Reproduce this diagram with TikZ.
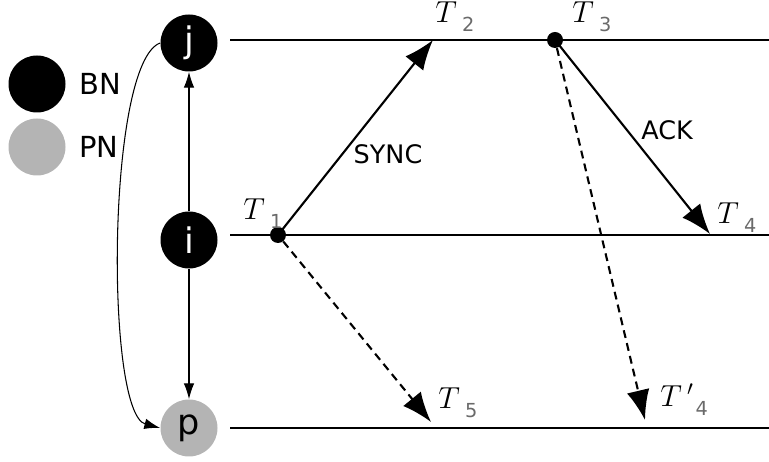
\documentclass[tikz,border=0pt]{standalone}
\usepackage{fontspec}
\setsansfont{DejaVu Sans}
\usepackage{tikz}
\usetikzlibrary{arrows.meta, positioning}
\definecolor{pgray}{HTML}{B4B4B4}
\definecolor{subgray}{HTML}{6A6A6A}
\newcommand{\tlabel}[2][]{{\fontsize{16.5}{18}\selectfont$T$}\hspace{3pt}{\fontsize{16.5}{18}\selectfont#1}\raisebox{-5pt}{\color{subgray}\fontsize{11}{12}\sffamily #2}}
\tikzset{
  bnode/.style={circle, fill=black, text=white, minimum size=1.14cm, inner sep=0pt,
                font=\fontsize{20}{22}\sffamily},
  pnode/.style={circle, fill=pgray, text=black, minimum size=1.14cm, inner sep=0pt,
                font=\fontsize{20}{22}\sffamily},
  legtext/.style={font=\fontsize{16.5}{19}\sffamily, inner sep=0pt},
  msgtext/.style={font=\fontsize{14.5}{17}\sffamily, inner sep=0pt},
  tlab/.style={anchor=base west, inner sep=0pt},
  evdot/.style={circle, fill=black, minimum size=0.32cm, inner sep=0pt},
  tline/.style={line width=1.2pt},
  marr/.style={line width=1.2pt, -{Latex[length=17pt, width=13pt]}},
  dmarr/.style={line width=1.2pt, dash pattern=on 4.5pt off 3pt, -{Latex[length=17pt, width=13pt]}},
  larr/.style={line width=0.6pt, -{Latex[length=9pt, width=6pt]}},
}
\begin{document}
\begin{tikzpicture}
  \useasboundingbox (0,0) rectangle (15.38,9.24);

  %% ── legend ──
  \node[bnode] (legBN) at (0.74,7.56) {};
  \node[legtext, right=0.26cm of legBN] (legBNtext) {BN};
  \node[pnode] (legPN) at (0.74,6.30) {};
  \node[legtext, right=0.26cm of legPN] (legPNtext) {PN};

  %% ── nodes ──
  \node[bnode] (nodeJ) at (3.78,8.38) {j};
  \node[bnode] (nodeI) at (3.78,4.44) {i};
  \node[pnode] (nodeP) at (3.78,0.68) {p};

  \draw[larr, {Latex[length=9pt, width=6pt]}-] (nodeJ) -- (nodeI);
  \draw[larr] (nodeI) -- (nodeP);
  \draw[larr] (nodeJ.west) to[out=200, in=165, looseness=0.38] (nodeP.west);

  %% ── time lines ──
  \coordinate (jStart) at (4.60,8.44);  \coordinate (jEnd) at (15.38,8.44);
  \coordinate (iStart) at (4.60,4.54);  \coordinate (iEnd) at (15.38,4.54);
  \coordinate (pStart) at (4.60,0.68);  \coordinate (pEnd) at (15.38,0.68);
  \draw[tline] (jStart) -- (jEnd);
  \draw[tline] (iStart) -- (iEnd);
  \draw[tline] (pStart) -- (pEnd);

  %% ── events ──
  \node[evdot] (tOne) at (5.56,4.54) {};
  \node[evdot] (tThree) at (11.10,8.44) {};
  \coordinate (tTwo) at (8.66,8.44);
  \coordinate (tFour) at (14.20,4.56);
  \coordinate (tFive) at (8.62,0.80);
  \coordinate (tFourP) at (12.90,0.84);

  \draw[marr] (tOne.center) -- (tTwo);
  \draw[marr] (tThree.center) -- (tFour);
  \draw[dmarr] (tOne) -- (tFive);
  \draw[dmarr] (tThree) -- (tFourP);

  \node[msgtext] (syncText) at (7.76,6.16) {SYNC};
  \node[msgtext] (ackText) at (13.34,6.64) {ACK};

  %% ── time labels ──
  \node[tlab] (labOne) at (4.86,4.84) {\tlabel{1}};
  \node[tlab] (labTwo) at (8.70,8.78) {\tlabel{2}};
  \node[tlab] (labThree) at (11.44,8.78) {\tlabel{3}};
  \node[tlab] (labFour) at (14.34,4.76) {\tlabel{4}};
  \node[tlab] (labFive) at (8.76,1.06) {\tlabel{5}};
  \node[tlab] (labFourP) at (13.20,1.10) {\tlabel[$'$\hspace{1pt}]{4}};
\end{tikzpicture}
\end{document}
